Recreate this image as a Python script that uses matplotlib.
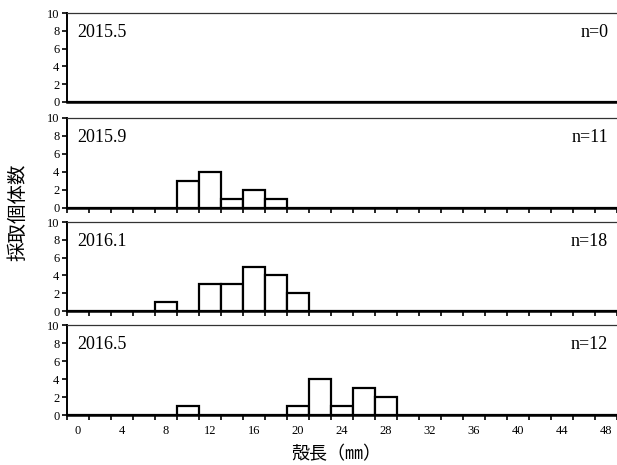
import numpy as np
import matplotlib
matplotlib.use("Agg")
import matplotlib.pyplot as plt
from matplotlib.ticker import MultipleLocator

plt.rcParams['font.family'] = ['Liberation Serif', 'Noto Sans CJK JP', 'DejaVu Sans']

# size classes (mm), one bar per 2 mm class
size_classes = list(range(0, 50, 2))
x_labels = [str(v) for v in range(0, 50, 4)]

panel_names = ["2015.5", "2015.9", "2016.1", "2016.5"]
n_counts = ["n=0", "n=11", "n=18", "n=12"]

#            0  2  4  6  8 10 12 14 16 18 20 22 24 26 28 30 32 34 36 38 40 42 44 46 48
c_2015_5 = [0, 0, 0, 0, 0, 0, 0, 0, 0, 0, 0, 0, 0, 0, 0, 0, 0, 0, 0, 0, 0, 0, 0, 0, 0]
c_2015_9 = [0, 0, 0, 0, 0, 3, 4, 1, 2, 1, 0, 0, 0, 0, 0, 0, 0, 0, 0, 0, 0, 0, 0, 0, 0]
c_2016_1 = [0, 0, 0, 0, 1, 0, 3, 3, 5, 4, 2, 0, 0, 0, 0, 0, 0, 0, 0, 0, 0, 0, 0, 0, 0]
c_2016_5 = [0, 0, 0, 0, 0, 1, 0, 0, 0, 0, 1, 4, 1, 3, 2, 0, 0, 0, 0, 0, 0, 0, 0, 0, 0]
all_counts = [c_2015_5, c_2015_9, c_2016_1, c_2016_5]

fig = plt.figure(figsize=(6.17, 4.65), dpi=100)

# panel top/bottom in pixels (from top of image)
tops = [13, 118, 222, 325]
bottoms = [102, 208, 311, 415]
left = 67 / 617
width = 550 / 617

axes = []
for i in range(4):
    b = (465 - bottoms[i]) / 465
    h = (bottoms[i] - tops[i]) / 465
    ax = fig.add_axes([left, b, width, h])
    axes.append(ax)

    ax.bar(size_classes, all_counts[i], width=2, color='white', edgecolor='black', linewidth=1.6, zorder=3)

    ax.set_xlim(-1, 49)
    ax.set_ylim(0, 10)
    ax.set_yticks([0, 2, 4, 6, 8, 10])
    ax.tick_params(axis='y', direction='out', length=3.5, width=1.2, labelsize=9, pad=2)

    ax.set_xticks(list(range(0, 50, 4)))
    ax.xaxis.set_minor_locator(MultipleLocator(2, offset=1))
    ax.tick_params(axis='x', which='major', length=0, labelsize=9, pad=7)
    if i == 0:
        ax.tick_params(axis='x', which='minor', length=0)
    else:
        ax.tick_params(axis='x', which='minor', direction='out', length=3.5, width=1.2)
    if i == 3:
        ax.set_xticklabels(x_labels)
    else:
        ax.set_xticklabels([])

    ax.spines['right'].set_visible(False)
    ax.spines['top'].set_linewidth(0.9)
    ax.spines['top'].set_color('#333333')
    ax.spines['left'].set_linewidth(1.4)
    ax.spines['bottom'].set_linewidth(1.8)
    ax.spines['bottom'].set_zorder(4)

    ax.text(0.018, 0.78, panel_names[i], transform=ax.transAxes, fontsize=13,
            ha='left', va='center')
    ax.text(0.984, 0.78, n_counts[i], transform=ax.transAxes, fontsize=13,
            ha='right', va='center')

fig.text(18 / 617, 1 - 212 / 465, "採取個体数", rotation=90, ha='center', va='center',
         fontsize=14, family=['Noto Sans CJK JP'])
fig.text(336 / 617, 1 - 454 / 465, "殻長（㎜）", ha='center', va='center',
         fontsize=13, family=['Noto Sans CJK JP'])

fig.savefig("out.png", dpi=100)
